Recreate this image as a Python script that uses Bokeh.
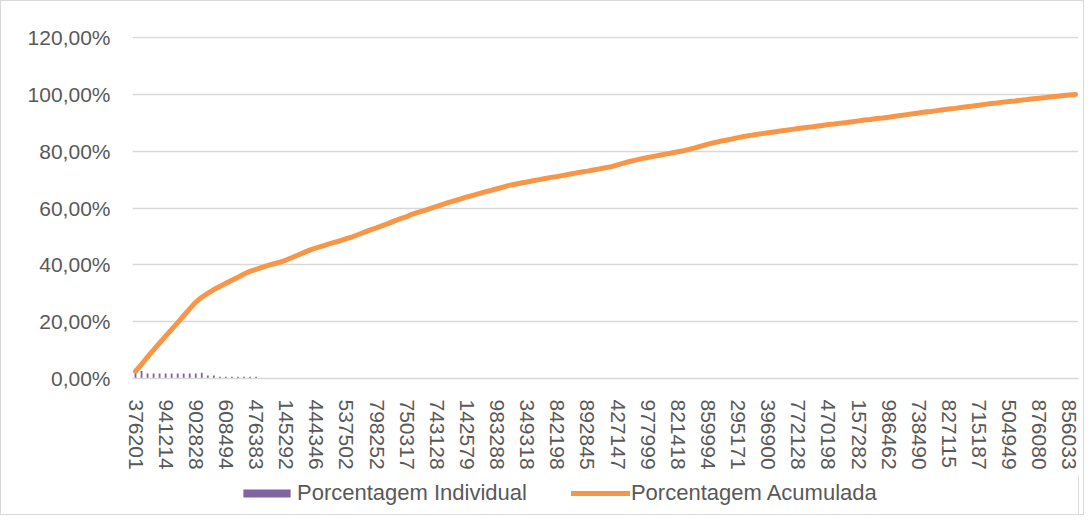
from bokeh.plotting import figure
from bokeh.layouts import column
from bokeh.models import Range1d, FixedTicker, Legend, LegendItem
from bokeh.embed import file_html
from bokeh.resources import INLINE

# ---------------- data ----------------
tick_labels = ["376201", "941214", "902828", "608494", "476383", "145292", "444346", "537502",
               "798252", "750317", "743128", "142579", "983288", "349318", "842198", "892845",
               "427147", "977999", "821418", "859994", "295171", "396900", "772128", "470198",
               "157282", "986462", "738490", "827115", "715187", "504949", "876080", "856033"]
label_step = 5  # one label every 5 categories

# Porcentagem Individual (only the visible bars at the start)
individual = [2.3, 2.6, 1.8, 1.8, 1.8, 1.8, 1.8, 1.8, 1.8, 1.8, 1.8,
              2.0, 1.1, 1.1, 0.6, 0.6, 0.6, 0.6, 0.6, 0.6, 0.6]

# Porcentagem Acumulada
cumulative = [
    2.5, 5.0, 7.6, 10.1, 12.5, 14.9, 17.3, 19.7, 22.1, 24.5,
    26.9, 28.6, 30.0, 31.3, 32.4, 33.5, 34.6, 35.6, 36.8, 37.7,
    38.4, 39.1, 39.8, 40.4, 41.0, 41.7, 42.6, 43.5, 44.4, 45.3,
    46.0, 46.6, 47.3, 47.9, 48.5, 49.2, 49.9, 50.7, 51.5, 52.3,
    53.0, 53.8, 54.6, 55.5, 56.3, 57.0, 57.9, 58.6, 59.2, 59.9,
    60.6, 61.3, 62.0, 62.6, 63.2, 63.9, 64.5, 65.1, 65.7, 66.2,
    66.8, 67.4, 68.0, 68.4, 68.8, 69.2, 69.6, 70.0, 70.4, 70.8,
    71.1, 71.5, 71.9, 72.3, 72.7, 73.0, 73.4, 73.8, 74.2, 74.6,
    75.2, 75.8, 76.4, 76.9, 77.4, 77.8, 78.2, 78.6, 79.0, 79.4,
    79.8, 80.2, 80.7, 81.3, 81.9, 82.5, 83.0, 83.5, 83.9, 84.3,
    84.8, 85.2, 85.6, 85.9, 86.2, 86.5, 86.8, 87.1, 87.4, 87.7,
    88.0, 88.3, 88.5, 88.8, 89.1, 89.4, 89.6, 89.9, 90.1, 90.4,
    90.7, 91.0, 91.2, 91.5, 91.7, 92.0, 92.3, 92.6, 92.9, 93.2,
    93.5, 93.8, 94.0, 94.3, 94.6, 94.9, 95.1, 95.4, 95.7, 95.9,
    96.2, 96.5, 96.8, 97.0, 97.3, 97.5, 97.7, 98.0, 98.2, 98.5,
    98.7, 98.9, 99.2, 99.4, 99.6, 99.8, 100.0,
]

y_ticks = [0, 20, 40, 60, 80, 100, 120]

# ---------------- style ----------------
FONT = "Liberation Sans"
TXT = "#595959"
GRID = "#d9d9d9"
PURPLE = "#8064A2"
ORANGE = "#F79646"

n = len(cumulative)
x_all = list(range(n))
x_bar = list(range(len(individual)))

W = 1082
p = figure(width=W, height=474, output_backend="svg", toolbar_location=None,
           x_range=Range1d(-0.5, n - 0.5), y_range=Range1d(0, 120.4))
p.min_border_left = 131
p.min_border_top = 35
p.min_border_right = 5
p.min_border_bottom = 97
p.outline_line_color = None
p.background_fill_color = "white"
p.border_fill_color = "white"

bars = p.vbar(x=x_bar, top=individual, width=0.3, fill_color=PURPLE, line_color=None)
line = p.line(x=x_all, y=cumulative, line_color=ORANGE, line_width=5,
              line_cap="round", line_join="round")

# axes
p.xgrid.grid_line_color = None
p.ygrid.grid_line_color = GRID
p.ygrid.grid_line_width = 1.5
p.ygrid.ticker = FixedTicker(ticks=y_ticks)

p.yaxis.ticker = FixedTicker(ticks=y_ticks)
p.yaxis.major_label_overrides = {v: f"{v:.2f}".replace(".", ",") + "%" for v in y_ticks}
p.yaxis.axis_line_color = None
p.yaxis.major_tick_line_color = None
p.yaxis.minor_tick_line_color = None
p.yaxis.major_label_standoff = 16
p.yaxis.major_label_text_font = FONT
p.yaxis.major_label_text_font_size = "21px"
p.yaxis.major_label_text_color = TXT

x_ticks = [i * label_step for i in range(len(tick_labels))]
p.xaxis.ticker = FixedTicker(ticks=x_ticks)
p.xaxis.major_label_overrides = {t: lab for t, lab in zip(x_ticks, tick_labels)}
p.xaxis.major_label_orientation = "vertical"
p.xaxis.axis_line_color = GRID
p.xaxis.axis_line_width = 1.5
p.xaxis.major_tick_line_color = None
p.xaxis.minor_tick_line_color = None
p.xaxis.major_label_standoff = 15
p.xaxis.major_label_text_font = FONT
p.xaxis.major_label_text_font_size = "21px"
p.xaxis.major_label_text_color = TXT

# ---------------- legend strip below the chart ----------------
leg = figure(width=W, height=39, output_backend="svg", toolbar_location=None,
             x_range=Range1d(0, 1), y_range=Range1d(0, 1),
             x_axis_type=None, y_axis_type=None)
leg.min_border = 0
leg.outline_line_color = None
leg.xgrid.grid_line_color = None
leg.ygrid.grid_line_color = None
lb = leg.vbar(x=[5], top=[5], width=0.3, fill_color=PURPLE, line_color=None)
ll = leg.line(x=[5, 6], y=[5, 6], line_color=ORANGE, line_width=5, line_cap="round")

legend = Legend(items=[LegendItem(label="Porcentagem Individual", renderers=[lb]),
                       LegendItem(label="Porcentagem Acumulada", renderers=[ll])],
                orientation="horizontal", location=(105, 8),
                glyph_width=59, glyph_height=10, label_standoff=1, spacing=44,
                padding=0, margin=0, border_line_color=None, background_fill_alpha=0,
                label_text_font=FONT, label_text_font_size="22px", label_text_color=TXT)
leg.add_layout(legend, "center")

layout = column(p, leg, spacing=0)
layout.styles = {"border": "1px solid #d9d9d9"}

open("out.html", "w").write(file_html(layout, INLINE))
